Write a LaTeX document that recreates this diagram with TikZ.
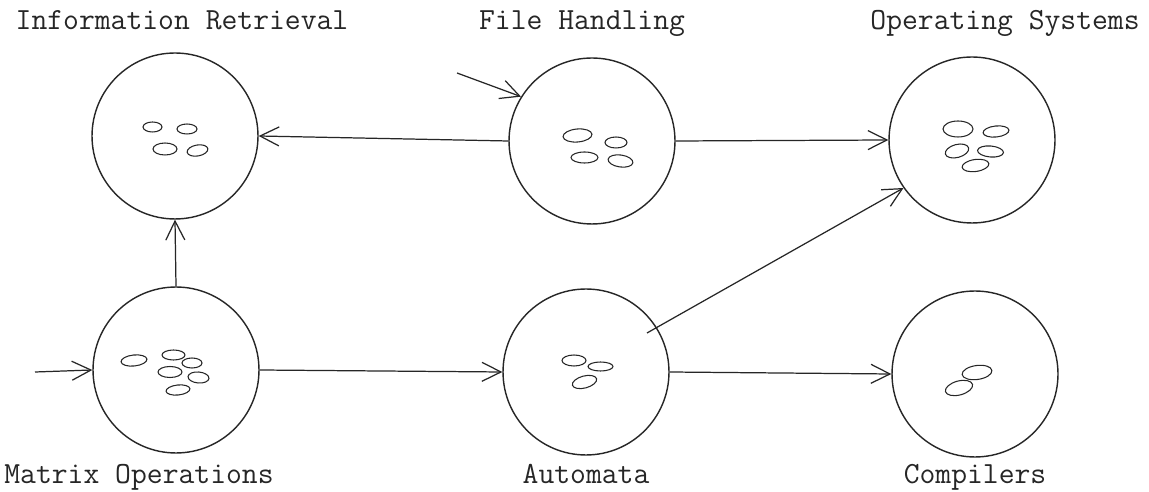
\documentclass[tikz,border=0pt]{standalone}
\usepackage{fontspec}
\usetikzlibrary{arrows.meta}
\begin{document}
\begin{tikzpicture}[x=0.02cm,y=-0.02cm,
  bubble/.style={circle,draw=black!85,line width=0.8pt,minimum size=3.32cm,inner sep=0pt},
  conn/.style={draw=black!85,line width=0.7pt,-{Straight Barb[length=0.38cm,width=0.38cm,line width=0.7pt]}},
  oval/.style={draw=black!85,line width=0.6pt},
  lbl/.style={font=\ttfamily\fontsize{17.5}{20}\selectfont,anchor=base,inner sep=0pt,text=black!85}]
\useasboundingbox[fill=white] (0,0) rectangle (1149,492);

% circles
\node[bubble] (ir) at (175,136) {};
\node[bubble] (fh) at (592,141) {};
\node[bubble] (os) at (972,140) {};
\node[bubble] (mo) at (176,370) {};
\node[bubble] (au) at (586,372) {};
\node[bubble] (co) at (975,374) {};

% labels
\node[lbl] (lir) at (182,30) {Information Retrieval};
\node[lbl] (lfh) at (582,30) {File Handling};
\node[lbl] (los) at (1005,30) {Operating Systems};
\node[lbl] (lmo) at (139,484) {Matrix Operations};
\node[lbl] (lau) at (586,484) {Automata};
\node[lbl] (lco) at (975,484) {Compilers};

% ovals: Information Retrieval
\draw[oval] (152.5,127) ellipse [x radius=9.5, y radius=5];
\draw[oval] (187,129) ellipse [x radius=10, y radius=5];
\draw[oval] (165,149) ellipse [x radius=12, y radius=6];
\draw[oval] (197.5,150.5) circle [x radius=10.5, y radius=5.5, rotate=10];
% File Handling
\draw[oval] (577.5,135.5) circle [x radius=14.5, y radius=6.5, rotate=5];
\draw[oval] (616,142.5) ellipse [x radius=11, y radius=5.5];
\draw[oval] (584.5,157.5) ellipse [x radius=13.5, y radius=5.5];
\draw[oval] (620.5,161) circle [x radius=12.5, y radius=6, rotate=-8];
% Operating Systems
\draw[oval] (958,129) ellipse [x radius=15, y radius=8];
\draw[oval] (996,131.5) circle [x radius=13, y radius=5.5, rotate=6];
\draw[oval] (957,151) circle [x radius=12, y radius=6.5, rotate=15];
\draw[oval] (990.5,151.5) circle [x radius=13, y radius=5.5, rotate=-5];
\draw[oval] (975.5,165.5) circle [x radius=13.5, y radius=6, rotate=8];
% Matrix Operations
\draw[oval] (134,360.5) circle [x radius=13, y radius=5.5, rotate=6];
\draw[oval] (173.5,355) ellipse [x radius=11.5, y radius=5];
\draw[oval] (192,363) ellipse [x radius=10, y radius=5];
\draw[oval] (170,372) ellipse [x radius=12, y radius=5.5];
\draw[oval] (198.5,377.5) circle [x radius=10.5, y radius=5.5, rotate=-5];
\draw[oval] (178,390) circle [x radius=12, y radius=5, rotate=6];
% Automata
\draw[oval] (574,360.5) ellipse [x radius=12, y radius=5.5];
\draw[oval] (600.5,366.5) ellipse [x radius=12.5, y radius=4.5];
\draw[oval] (584.5,382) circle [x radius=12.5, y radius=6, rotate=15];
% Compilers
\draw[oval] (977,372.5) circle [x radius=15, y radius=7, rotate=8];
\draw[oval] (959,388) circle [x radius=14, y radius=7, rotate=15];

% connectors
\coordinate (fhin) at (457,73);
\coordinate (moin) at (35,372);
\coordinate (aust) at (647,333);
\draw[conn] (fhin) -- (fh.148);
\draw[conn] (fh.west) -- (ir.east);
\draw[conn] (fh.east) -- (os.west);
\draw[conn] (mo.north) -- (ir.south);
\draw[conn] (moin) -- (mo.west);
\draw[conn] (mo.east) -- (au.west);
\draw[conn] (aust) -- (os.215);
\draw[conn] (au.east) -- (co.west);
\end{tikzpicture}
\end{document}
